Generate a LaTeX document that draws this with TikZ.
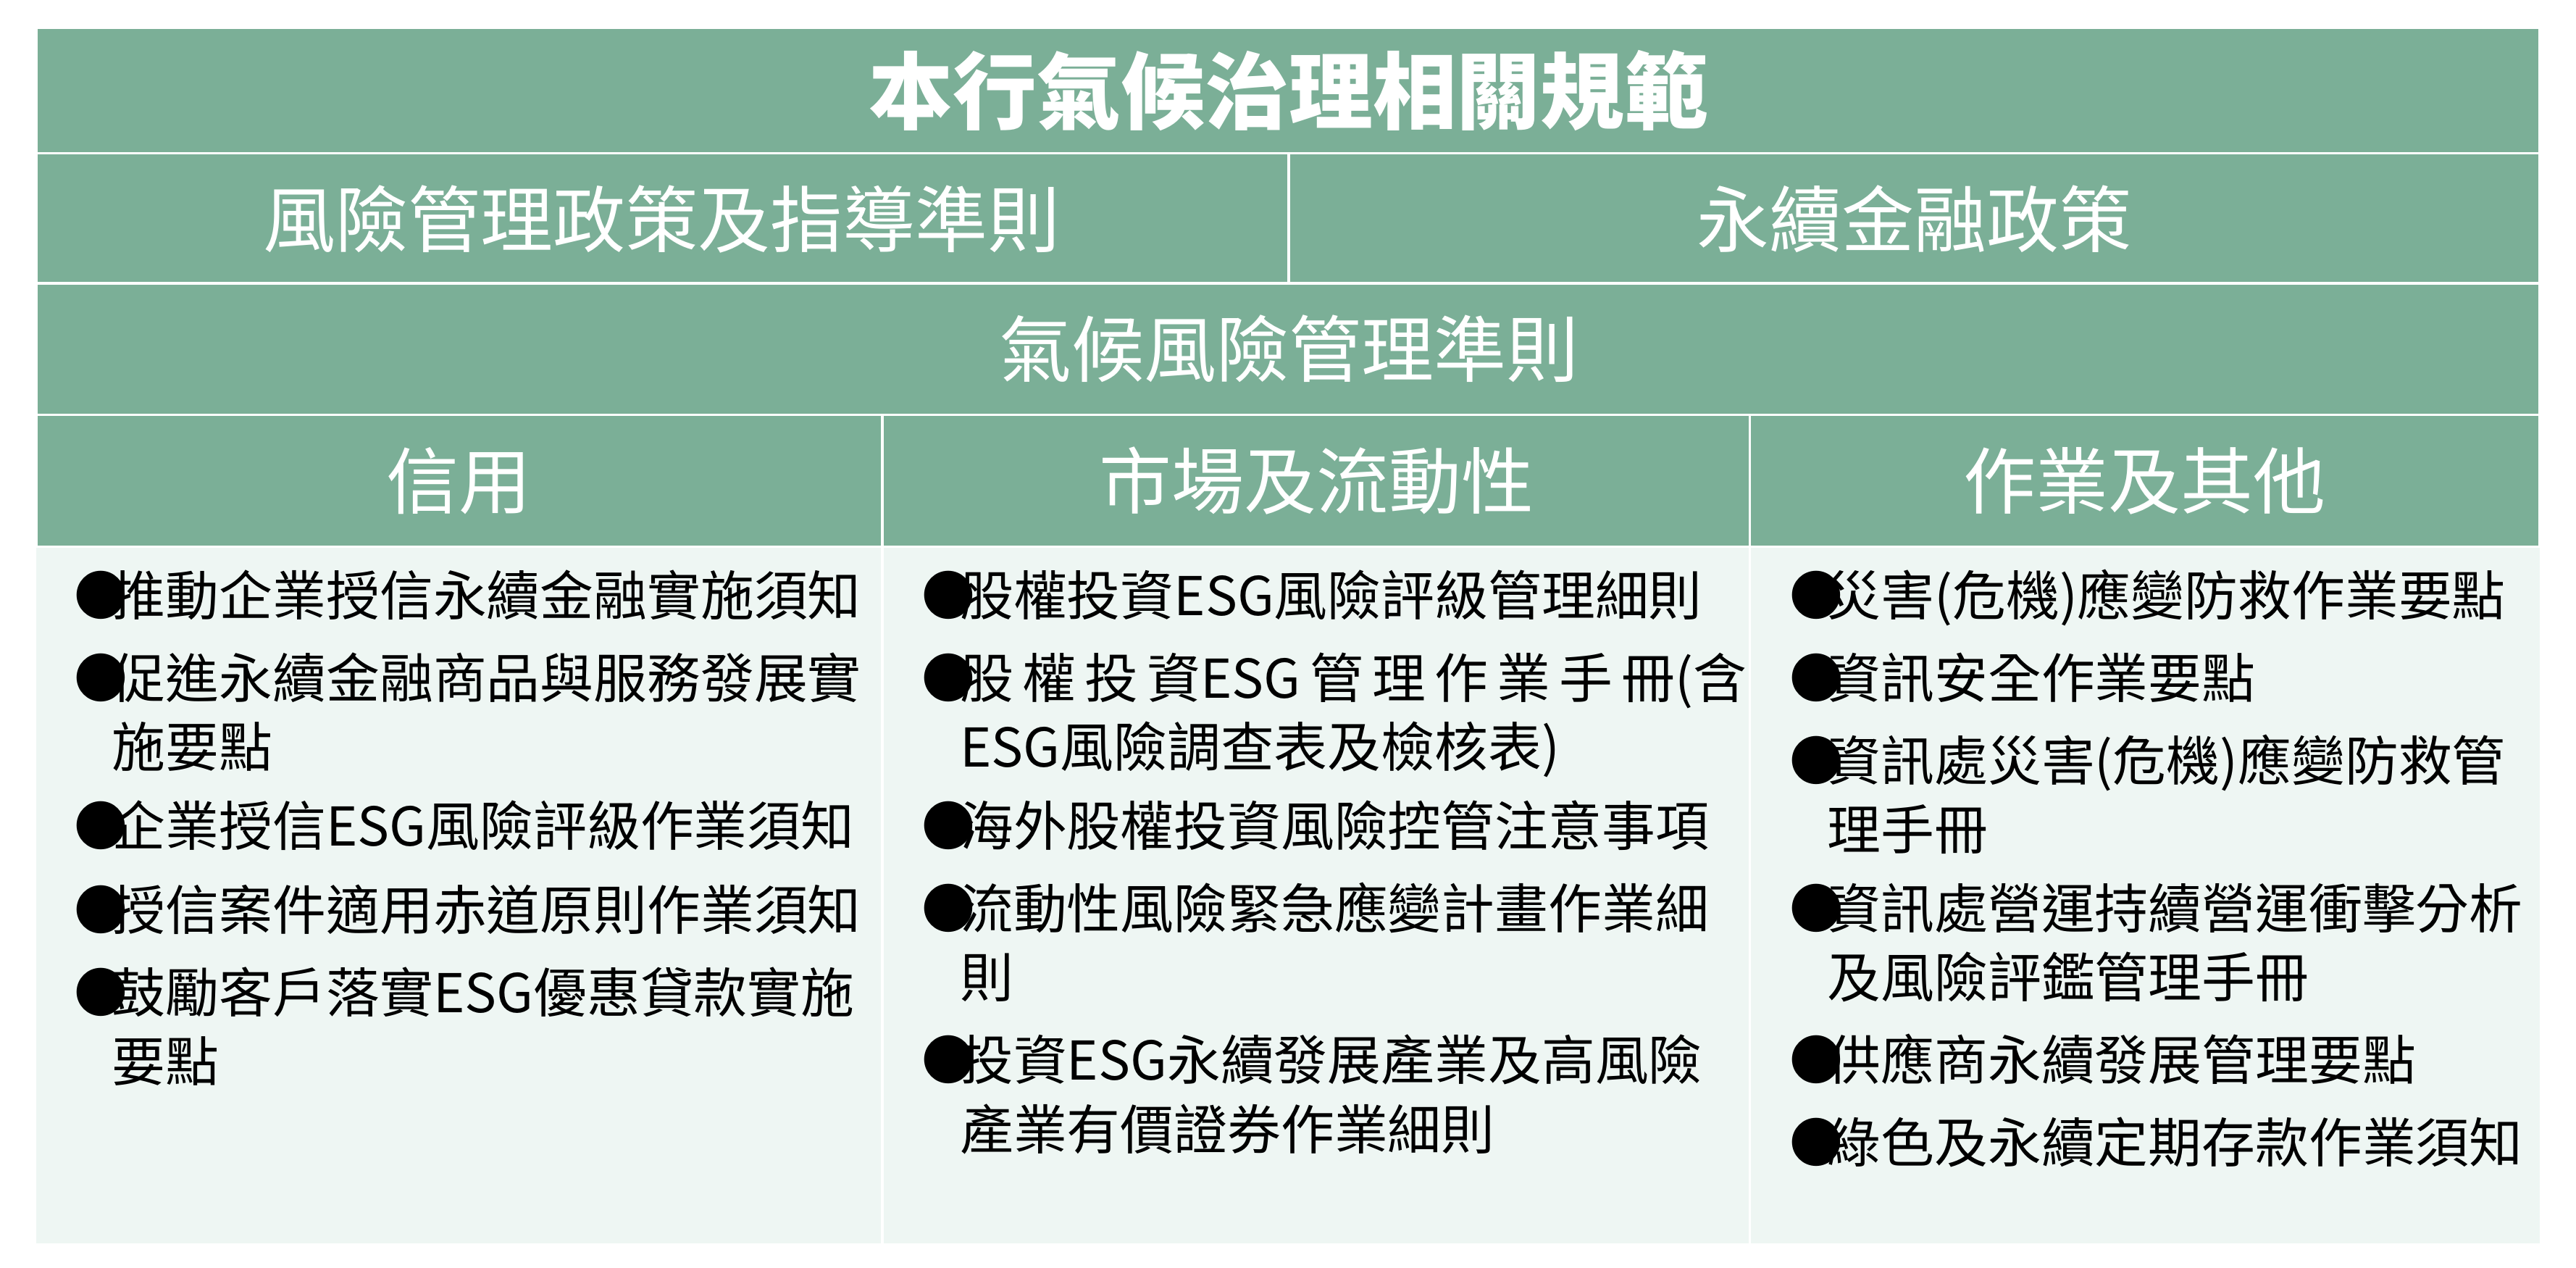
\documentclass[tikz,border=0pt]{standalone}
\usepackage{fontspec}
\setmainfont{Noto Sans CJK TC}
\definecolor{hdr}{HTML}{7BAF97}
\definecolor{bodyc}{HTML}{EEF6F3}
\tikzset{
 hcell/.style={fill=hdr,draw=white,line width=1.5pt},
 bcell/.style={fill=bodyc,draw=white,line width=1.5pt},
 htext/.style={text=white,font=\fontsize{44}{52}\selectfont,inner sep=0},
 ttext/.style={text=white,font=\fontsize{51}{60}\bfseries\selectfont,inner sep=0},
 item/.style={anchor=base west,align=left,inner sep=0,text=black,font=\fontsize{32.5}{42}\selectfont},
}
\newcommand{\bul}{\makebox[23pt][l]{●}}
\newcommand{\ind}{\hspace*{23pt}}
\begin{document}
\begin{tikzpicture}[x=1pt,y=-1pt]
\useasboundingbox[fill=white] (0,0) rectangle (1565,770);
\fill[bodyc] (22,332) rectangle (1543,755);
\draw[hcell] (22,17) rectangle (1543,93);
\draw[hcell] (22,93) rectangle (783,172);
\draw[hcell] (783,93) rectangle (1543,172);
\draw[hcell] (22,172) rectangle (1543,252);
\draw[hcell] (22,252) rectangle (536,332);
\draw[hcell] (536,252) rectangle (1063,332);
\draw[hcell] (1063,252) rectangle (1543,332);
\draw[white,line width=1.5pt] (536,332) -- (536,755) (1063,332) -- (1063,755);
\node[ttext] (t) at (783,55) {本行氣候治理相關規範};
\node[htext] (a) at (402,133) {風險管理政策及指導準則};
\node[htext] (b) at (1163,133) {永續金融政策};
\node[htext] (c) at (783,212) {氣候風險管理準則};
\node[htext] (d) at (279,292) {信用};
\node[htext] (e) at (800,292) {市場及流動性};
\node[htext] (f) at (1303,292) {作業及其他};
% column 1
\node[item] (a1) at (45,374) {\bul 推動企業授信永續金融實施須知};
\node[item] (a2) at (45,466) {\bul 促進永續金融商品與服務發展實\\\ind 施要點};
\node[item] (a3) at (45,514) {\bul 企業授信ESG風險評級作業須知};
\node[item] (a4) at (45,565) {\bul 授信案件適用赤道原則作業須知};
\node[item] (a5) at (45,657) {\bul 鼓勵客戶落實ESG優惠貸款實施\\\ind 要點};
% column 2
\node[item] (b1) at (560,374) {\bul 股權投資ESG風險評級管理細則};
\node[item] (b2) at (560,466) {\bul 股\,權\,投\,資ESG\,管\,理\,作\,業\,手\,冊(含\\\ind ESG風險調查表及檢核表)};
\node[item] (b3) at (560,514) {\bul 海外股權投資風險控管注意事項};
\node[item] (b4) at (560,606) {\bul 流動性風險緊急應變計畫作業細\\\ind 則};
\node[item] (b5) at (560,698) {\bul 投資ESG永續發展產業及高風險\\\ind 產業有價證券作業細則};
% column 3
\node[item] (c1) at (1087,374) {\bul 災害(危機)應變防救作業要點};
\node[item] (c2) at (1087,424) {\bul 資訊安全作業要點};
\node[item] (c3) at (1087,516) {\bul 資訊處災害(危機)應變防救管\\\ind 理手冊};
\node[item] (c4) at (1087,606) {\bul 資訊處營運持續營運衝擊分析\\\ind 及風險評鑑管理手冊};
\node[item] (c5) at (1087,656) {\bul 供應商永續發展管理要點};
\node[item] (c6) at (1087,706) {\bul 綠色及永續定期存款作業須知};
\end{tikzpicture}
\end{document}
